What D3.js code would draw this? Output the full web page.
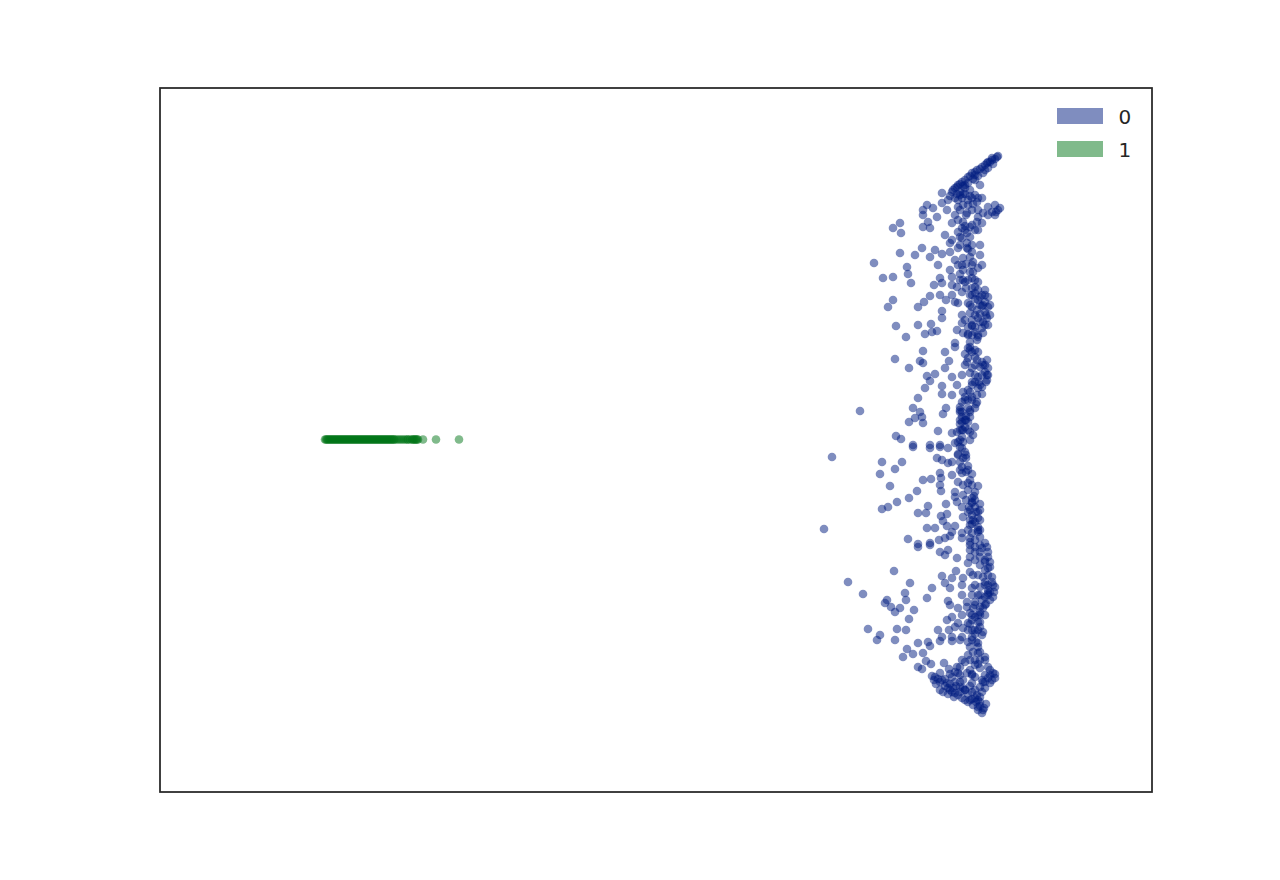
<!DOCTYPE html>
<html>
<head>
<meta charset="utf-8">
<script src="https://cdn.jsdelivr.net/npm/d3@7"></script>
<style>
  html, body { margin: 0; padding: 0; background: #fff; }
  svg { display: block; }
</style>
</head>
<body>
<svg id="chart" width="1280" height="880"></svg>
<script>
// ---- data (arbitrary embedding units) ----
const classLabels = ["0", "1"];
const xDomain = [0, 992];
const yDomain = [0, 704];

// class 0 : [x, y]
const class0 = [
  [837,635],[832,632],[827,629],[822,625],[817,622],[812,619],[808,615],[802,610],[798,607],[795,604],
  [805,604],[815,597],[818,594],[812,594],[822,594],[782,599],[792,600],[788,592],[795,594],[802,594],
  [782,589],[798,585],[808,587],[767,587],[763,582],[773,584],[787,582],[763,577],[777,575],[795,577],
  [807,579],[812,582],[818,582],[828,585],[835,587],[838,582],[835,577],[828,577],[823,579],[818,575],
  [822,569],[817,570],[812,567],[803,570],[792,569],[802,564],[810,565],[818,562],[807,559],[798,560],
  [802,554],[810,555],[792,552],[785,557],[790,549],[807,549],[768,570],[763,565],[770,564],[740,569],
  [733,564],[741,559],[815,617],[825,622],[805,607],[800,597],[810,602],[815,612],[820,607],[798,592],
  [803,587],[806,577],[800,582],[832,634],[828,630],
  [740,539],[762,544],[755,537],[770,535],[775,542],[782,538],[790,540],[798,544],[807,544],[812,540],
  [820,537],[795,532],[803,534],[810,535],[714,529],[747,525],[748,518],[778,527],[790,522],[802,527],
  [803,522],[810,520],[818,524],[822,527],[723,514],[733,515],[751,509],[780,514],[792,515],[803,512],
  [782,509],[774,507],[792,507],[797,505],[808,512],[818,510],[812,504],[818,502],[825,502],[828,495],
  [822,497],[815,499],[810,497],[770,496],[780,497],[792,497],[802,500],[733,492],[728,485],[764,490],
  [758,485],[786,492],[795,490],[798,489],[808,489],[818,492],[828,485],[823,487],[817,482],[825,480],
  [830,477],[810,479],[802,477],[782,481],[782,474],[805,472],[812,472],[818,474],[823,470],[828,467],
  [822,464],[815,465],[808,465],[802,469],[736,466],[758,467],[771,468],[765,458],[772,460],[777,461],
  [746,455],[797,462],[803,459],[812,457],[818,455],[823,459],[795,449],[810,450],
  [795,445],[808,444],[818,440],[785,440],[763,441],[735,433],[760,431],[763,429],[789,431],[808,434],
  [817,432],[827,432],[823,427],[828,424],[749,424],[785,424],[805,427],[812,424],[767,416],[775,418],
  [770,411],[792,415],[802,417],[810,419],[818,415],[827,417],[827,412],[812,410],[822,405],[818,404],
  [782,406],[797,407],[765,404],[808,402],[803,400],[782,398],[792,397],[817,397],[812,395],[808,392],
  [758,394],[802,390],[817,390],[800,385],[808,384],[815,384],[700,381],[753,384],[786,384],[760,380],
  [802,380],[783,378],[755,374],[762,375],[749,370],[763,369],[802,375],[810,375],[802,370],[808,370],
  [815,365],[805,365],[778,361],[792,359],[802,355],[813,357],[736,356],[741,353],[753,347],[770,347],
  [780,347],[795,349],[803,350],
  [672,335],[753,345],[770,344],[780,345],[788,344],[802,344],[777,334],[782,332],[788,329],[792,330],
  [803,334],[802,325],[722,330],[742,330],[735,323],[720,318],[780,319],[792,317],[802,319],[763,312],
  [771,313],[781,314],[798,310],[808,309],[730,306],[780,307],[781,301],[757,301],[749,294],[795,300],
  [808,302],[803,297],[812,294],[795,295],[797,290],[737,290],[728,285],[722,283],[768,286],[786,288],
  [802,285],[812,289],[815,285],[808,280],[818,280],[758,279],[766,279],[781,276],[787,278],[803,275],
  [812,277],[818,274],[810,272],[783,271],[787,266],[795,266],[810,267],[818,265],[664,263],[767,264],
  [775,264],[792,260],[802,259],[812,259],[818,260],[790,256],[785,254],[748,253],[779,252],[802,254],
  [810,254],[825,249],[758,248],[770,249],
  [758,245],[770,247],[780,240],[785,237],[788,242],[797,234],[810,242],[815,240],[827,245],[810,235],
  [820,235],[828,235],[808,229],[820,227],[828,224],[734,221],[688,210],[703,198],[750,209],[772,204],
  [782,216],[792,214],[796,221],[803,214],[810,220],[813,217],[823,215],[832,215],[785,209],[790,204],
  [802,207],[812,204],[820,205],[828,207],[835,205],[745,199],[746,192],[767,194],[727,192],[725,189],
  [731,185],[740,184],[735,180],[754,182],[749,173],[788,191],[790,187],[802,197],[812,197],[820,197],
  [828,199],[833,195],[807,190],[815,190],[822,192],[830,192],[798,184],[807,185],[813,184],[823,184],
  [792,175],[787,172],[802,177],[810,179],[818,177],[825,177],[798,169],[808,169],[820,170],[708,163],
  [720,157],[717,152],[737,163],[746,162],[735,152],[778,162],[789,162],[795,165],[803,164],[812,162],
  [818,162],[782,155],[792,155],[802,155],[812,155],[822,157],[758,149],[768,150],[808,150],[818,149],
  [747,143],[743,135],[753,138],[763,139],[770,146],[780,151],[792,151],[818,145],[758,125],[762,123],
  [766,131],[771,128],[772,116],[774,112],[780,119],[784,129],[789,123],[797,125],[802,132],[808,137],
  [815,132],[818,139],[825,132],[828,125],[833,119],[835,114],[830,109],[823,110],[815,115],[807,119],
  [798,119],[792,115],[780,110],[787,109],[795,110],[803,112],[812,109],[820,105],[788,104],[792,100],
  [798,97],[805,102],[812,100],[815,94],[808,90],[813,87],[818,85],[823,82],[820,90],[802,94],
  [817,97],[822,100],[825,117],[830,122],[820,124],[815,127],[810,122],[825,104],[800,105],[795,99],
  [785,106],[780,102],[776,108],[783,100],[805,92],[818,82],[822,79],
  [813,520],[805,510],[815,505],[820,495],[825,490],[812,485],[820,470],[815,460],[810,445],[805,438],
  [815,435],[820,425],[825,420],[815,410],[810,400],[805,395],[800,380],[805,372],[800,362],[798,350],
  [805,340],[800,330],[806,320],[810,312],[815,300],[812,290],[820,288],[815,270],[820,262],[810,250],
  [815,245],[820,240],[825,230],[830,225],[825,210],[830,200],[825,195],[820,185],[815,175],[810,168],
  [820,165],[815,158],[810,145],[820,140],[825,135],[818,128],[812,118],[822,112],
  [835,633],[830,630],[825,627],[820,623],[815,620],[810,616],[805,612],[800,608],[797,605],[803,606],
  [808,609],[813,613],[818,616],[823,619],[828,624],[833,628],[838,636],[800,600],[805,598],[810,596],
  [817,590],[813,588],[803,598],[797,598],[793,602],[790,596],[808,592],[836,580],[840,584],[832,580],
  [798,572],[805,566],[800,555],[808,543],[813,530],[806,528],[800,518],[812,514],[806,504],[815,493],
  [822,486],[827,474],[820,478],[812,466],[817,452],[808,458],[812,440],[807,430],[822,430],[826,410],
  [819,410],[822,398],[816,388],[810,380],[806,376],[800,368],[797,360],[803,362],[810,360],[800,345],
  [806,334],[798,338],[808,326],[812,318],[818,306],[814,296],[809,285],[816,280],[812,268],[820,255],
  [815,252],[822,244],[828,240],[830,230],[825,222],[832,210],[828,202],[834,200],[826,188],[820,180],
  [818,170],[812,172],[823,160],[816,150],[813,140],[805,130],[800,125],[795,120],[790,118],[785,113],
  [778,113],[775,115],[782,112],[790,108],[796,106],[803,104],[808,98],[812,93],[816,90],[820,86],
  [824,84],[826,88],[820,95],[825,110],[832,112],[835,118],[828,114],[810,106],[800,110],[793,104],
  [788,98],[794,95],[800,100],
  [805,562],[815,562],[800,547],[812,547],[820,547],[798,527],[812,527],[800,512],[815,512],[812,497],
  [825,497],[810,487],[820,487],[830,487],[815,477],[826,477],[812,467],[825,467],[808,457],[818,457],
  [810,442],[815,442],[815,427],[825,427],[815,417],[822,417],[828,417],[812,407],[820,407],[805,392],
  [812,392],[800,382],[810,382],[800,372],[806,372],[802,362],[808,362],[800,352],[810,352],[798,337],
  [806,337],[800,322],[808,322],[803,307],[812,307],[806,292],[815,292],[810,282],[820,282],[813,272],
  [820,272],[808,262],[818,262],[810,247],[820,247],[815,232],[825,232],[818,217],[828,217],[815,207],
  [825,207],[833,207],[818,197],[828,197],[815,187],[825,187],[812,177],[820,177],[808,162],[815,162],
  [800,152],[812,152],[810,132],[820,132],[800,117],[812,117],[830,117],[790,102],[805,102],[815,102],
  [810,92],[818,92]
];

// class 1 : all on one line
const class1X = [165,166,167,168,169,170,171,172,173,174,175,176,177,178,179,180,181,182,183,184,
  185,186,187,188,189,190,191,192,193,194,195,196,197,198,199,200,201,202,203,204,205,206,207,208,
  209,210,211,212,213,214,215,216,217,218,219,220,221,222,223,224,225,226,227,228,229,230,231,232,
  233,234,235,237,239,241,243,245,247,248,250,252,253,254,255,256,257,258,263,276,299];
const class1Y = 352.5;

const colors = ["#001c7f", "#017517"];

// ---- drawing ----
const svg = d3.select("#chart");
const plot = { left: 160, top: 88, right: 1152, bottom: 792 };

const x = d3.scaleLinear().domain(xDomain).range([plot.left, plot.right]);
const y = d3.scaleLinear().domain(yDomain).range([plot.bottom, plot.top]);

const g = svg.append("g");
const R = 4.3;

g.selectAll("circle.c0")
  .data(class0)
  .join("circle")
  .attr("class", "c0")
  .attr("cx", d => x(d[0]))
  .attr("cy", d => y(d[1]))
  .attr("r", R)
  .attr("fill", colors[0])
  .attr("fill-opacity", 0.5);

g.selectAll("circle.c1")
  .data(class1X)
  .join("circle")
  .attr("class", "c1")
  .attr("cx", d => x(d))
  .attr("cy", y(class1Y))
  .attr("r", R)
  .attr("fill", colors[1])
  .attr("fill-opacity", 0.5);

// frame
svg.append("rect")
  .attr("x", plot.left)
  .attr("y", plot.top)
  .attr("width", plot.right - plot.left)
  .attr("height", plot.bottom - plot.top)
  .attr("fill", "none")
  .attr("stroke", "#262626")
  .attr("stroke-width", 1.75);

// legend
const legend = svg.append("g").attr("transform", "translate(1057,108)");
const items = legend.selectAll("g")
  .data(classLabels)
  .join("g")
  .attr("transform", (d, i) => `translate(0,${i * 33})`);
items.append("rect")
  .attr("width", 46)
  .attr("height", 16)
  .attr("fill", (d, i) => colors[i])
  .attr("fill-opacity", 0.5);
items.append("text")
  .attr("x", 61.5)
  .attr("y", 16)
  .attr("font-family", "DejaVu Sans, sans-serif")
  .attr("font-size", 20)
  .attr("fill", "#262626")
  .text(d => d);
</script>
</body>
</html>
